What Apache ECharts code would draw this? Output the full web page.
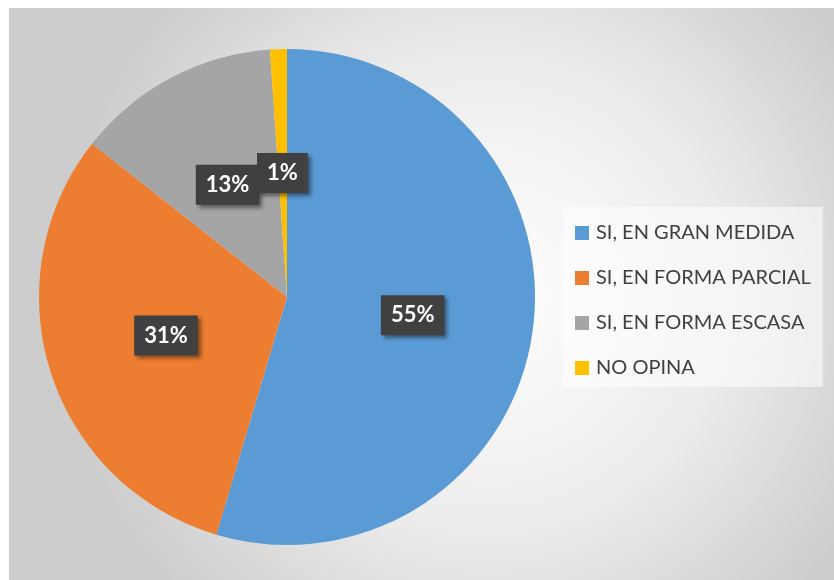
<!DOCTYPE html>
<html>
<head>
<meta charset="utf-8">
<script src="https://cdn.jsdelivr.net/npm/echarts@6/dist/echarts.min.js"></script>
<style>
html,body{margin:0;padding:0;background:#fff;width:834px;height:580px;overflow:hidden;}
#c{position:absolute;left:9px;top:8px;width:825px;height:572px;}
</style>
</head>
<body>
<div id="c"></div>
<script>
const categories = ['SI, EN GRAN MEDIDA', 'SI, EN FORMA PARCIAL', 'SI, EN FORMA ESCASA', 'NO OPINA'];
const values = [54.6, 31.0, 13.3, 1.1];
const colors = ['#5B9BD5', '#ED7D31', '#A5A5A5', '#FFC000'];

const chart = echarts.init(document.getElementById('c'), null, {renderer: 'canvas'});
const data = categories.map((n, i) => {
  const d = {name: n, value: values[i], itemStyle: {color: colors[i]}};
  if (values[i] < 3) { d.label = {position: 'outside'}; d.labelLine = {show: false}; }
  return d;
});
chart.setOption({
  animation: false,
  backgroundColor: {
    type: 'radial', x: 0.58, y: 0.5, r: 0.75,
    colorStops: [{offset: 0, color: '#ffffff'}, {offset: 0.55, color: '#ececec'}, {offset: 1, color: '#cdcdcd'}]
  },
  legend: {
    orient: 'vertical',
    left: 554,
    top: 199,
    padding: [16, 12, 9, 12],
    backgroundColor: 'rgba(255,255,255,0.55)',
    itemWidth: 14,
    itemHeight: 14,
    itemGap: 25,
    icon: 'rect',
    data: categories,
    textStyle: {fontFamily: 'Lato', fontSize: 20, color: '#404040', lineHeight: 20, padding: [0, 0, 0, 2]}
  },
  series: [{
    type: 'pie',
    center: [278, 289],
    radius: [0, 248],
    startAngle: 90,
    clockwise: true,
    silent: true,
    avoidLabelOverlap: false,
    minShowLabelAngle: 0,
    data: data,
    labelLayout: function (p) {
      if (values[p.dataIndex] >= 3) return {};
      return {
        x: p.rect.x + p.rect.width / 2 + 4,
        y: p.rect.y + p.rect.height / 2,
        align: 'center',
        verticalAlign: 'middle'
      };
    },
    label: {
      show: true,
      position: 'inside',
      formatter: function (p) { return Math.round(p.percent) + '%'; },
      fontFamily: 'Lato',
      fontWeight: 'bold',
      fontSize: 22,
      lineHeight: 22,
      color: '#ffffff',
      backgroundColor: '#404040',
      padding: [13, 10, 5, 10],
      shadowBlur: 4,
      shadowColor: 'rgba(0,0,0,0.45)',
      shadowOffsetX: 3,
      shadowOffsetY: 3,
      textShadowColor: 'transparent'
    },
    labelLine: {show: false}
  }]
});
</script>
</body>
</html>
